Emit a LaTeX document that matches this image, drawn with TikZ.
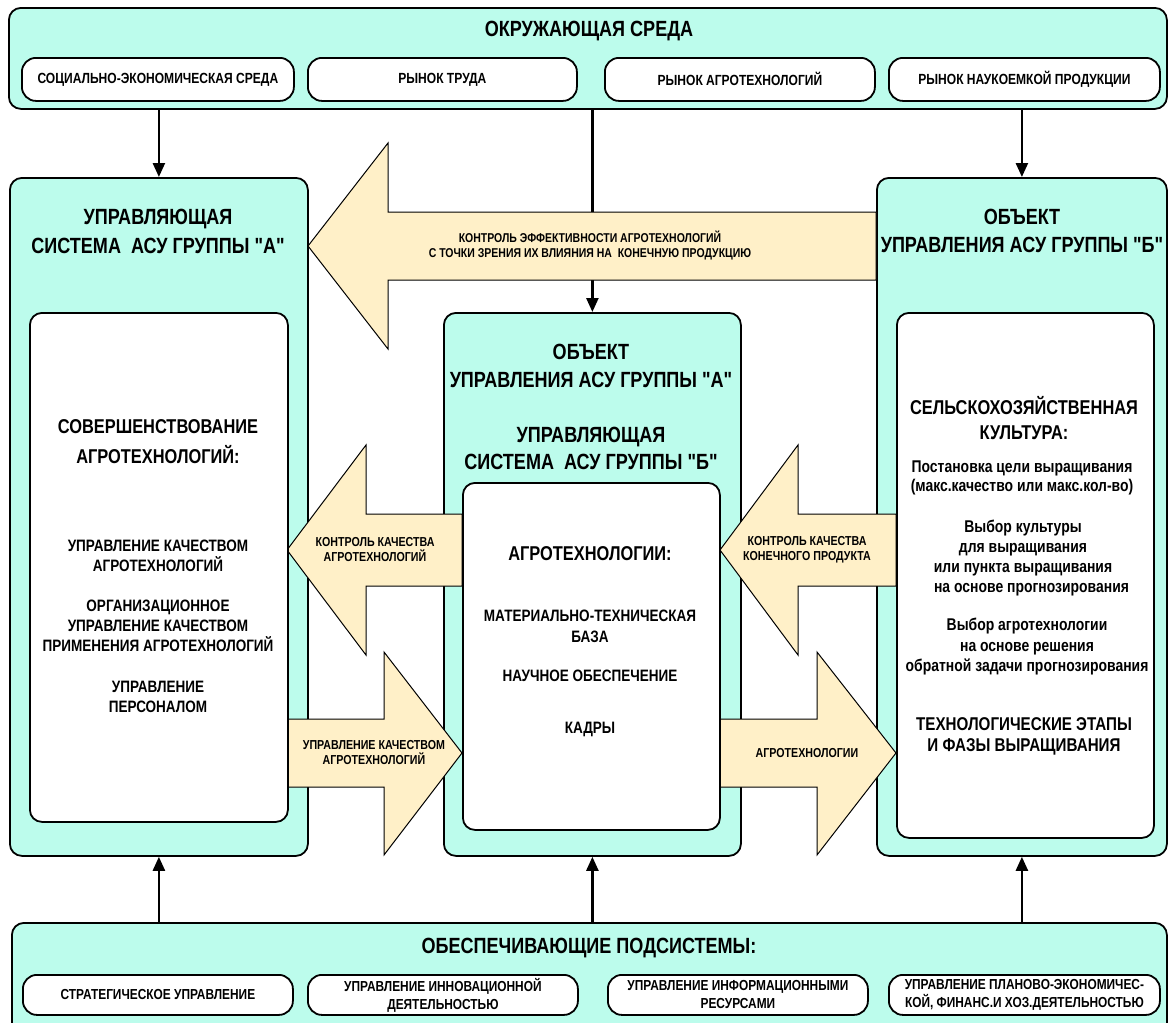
\documentclass[tikz,border=0pt]{standalone}
\usepackage{fontspec}
\setmainfont{Liberation Sans}[FakeStretch=0.82, Ligatures=TeXOff]
\usetikzlibrary{
  arrows.meta,
  positioning,  % relative placement
  calc,         % calculations $...$
}
\definecolor{panelfill}{RGB}{188,252,236}
\definecolor{arrowfill}{RGB}{255,240,200}
\newcommand{\fs}[2]{\fontsize{#1}{#2}\selectfont\bfseries}
\newcommand{\qt}{\symbol{34}}
\tikzset{
  x=1pt, y=-1pt,
  >={Triangle[length=14pt,width=12pt]},
  my panel/.style={
    draw,
    line width=1.8pt,
    fill=panelfill,
    rounded corners=12pt,
    anchor=north west,
    inner sep=0pt
  },
  my box/.style={
    draw,
    line width=1.8pt,
    fill=white,
    rounded corners=12pt,
    anchor=north west,
    inner sep=0pt
  },
  my pill/.style={
    my box,
    rounded corners=14pt
  },
  block arrow/.style={
    draw,
    line width=1pt,
    fill=arrowfill,
    line join=miter
  },
  conn/.style={
    ->,
    line width=2.4pt
  },
  big title/.style={font=\fs{22}{29}, align=center, inner sep=0pt},
  box title/.style={font=\fs{20}{30}, align=center, inner sep=0pt},
  mid text/.style={font=\fs{16.5}{20}, align=center, inner sep=0pt},
  box text/.style={font=\fs{14.7}{18}, align=center, inner sep=0pt},
  arrow text/.style={font=\fs{13}{15}, align=center, inner sep=0pt}
}

\begin{document}
\begin{tikzpicture}
\useasboundingbox (0,0) rectangle (1168,1023);

% panels
\node[my panel, minimum width=1158pt, minimum height=101pt] (env) at (8,7) {};
\node[my panel, minimum width=1155pt, minimum height=115pt] (supp) at (11,922) {};
\node[my panel, minimum width=298pt, minimum height=678pt] (lpanel) at (9,177) {};
\node[my panel, minimum width=297pt, minimum height=543pt] (cpanel) at (443,312) {};
\node[my panel, minimum width=290pt, minimum height=678pt] (rpanel) at (876,177) {};

% environment
\node[my pill, minimum width=272pt, minimum height=43pt] (env1) at (21,57) {};
\node[my pill, minimum width=269pt, minimum height=43pt] (env2) at (307,57) {};
\node[my pill, minimum width=270pt, minimum height=43pt] (env3) at (604,57) {};
\node[my pill, minimum width=271pt, minimum height=43pt] (env4) at (888,57) {};

% supporting subsystems
\node[my pill, minimum width=270pt, minimum height=40pt] (supp1) at (22,974) {};
\node[my pill, minimum width=270pt, minimum height=40pt] (supp2) at (307,974) {};
\node[my pill, minimum width=260pt, minimum height=40pt] (supp3) at (607,974) {};
\node[my pill, minimum width=271pt, minimum height=40pt] (supp4) at (888,974) {};

% connectors
\draw[conn] (lpanel.north |- env.south) -- (lpanel.north);
\draw[conn] (rpanel.north |- env.south) -- (rpanel.north);
\draw[conn] (cpanel.north |- env.south) -- (cpanel.north);
\draw[conn] (lpanel.south |- supp.north) -- (lpanel.south);
\draw[conn] (cpanel.south |- supp.north) -- (cpanel.south);
\draw[conn] (rpanel.south |- supp.north) -- (rpanel.south);

% block arrows
\draw[block arrow] (308,246) -- (388,143) -- (388,212) -- (876,212) -- (876,280)
  -- (388,280) -- (388,349) -- cycle;
\draw[block arrow] (287,550) -- (366,445) -- (366,514) -- (462,514) -- (462,586)
  -- (366,586) -- (366,655) -- cycle;
\draw[block arrow] (462,753) -- (384,652) -- (384,719) -- (287,719) -- (287,787)
  -- (384,787) -- (384,855) -- cycle;
\draw[block arrow] (720,550) -- (798,445) -- (798,514) -- (896,514) -- (896,586)
  -- (798,586) -- (798,655) -- cycle;
\draw[block arrow] (896,753) -- (817,652) -- (817,719) -- (720,719) -- (720,787)
  -- (817,787) -- (817,855) -- cycle;

% inner boxes
\node[my box, minimum width=258pt, minimum height=509pt] (lwhite) at (29,312) {};
\node[my box, minimum width=257pt, minimum height=347pt] (cwhite) at (462,482) {};
\node[my box, minimum width=257pt, minimum height=525pt] (rwhite) at (896,312) {};

% texts
\node[big title] (envt) at (589,31) {ОКРУЖАЮЩАЯ СРЕДА};
\node[box text] at (env1) {СОЦИАЛЬНО-ЭКОНОМИЧЕСКАЯ СРЕДА};
\node[box text] at (env2) {РЫНОК ТРУДА};
\node[box text] at (env3) {РЫНОК АГРОТЕХНОЛОГИЙ};
\node[box text] at (env4) {РЫНОК НАУКОЕМКОЙ ПРОДУКЦИИ};

\node[big title] (lt) at (158,231) {УПРАВЛЯЮЩАЯ\\СИСТЕМА~~АСУ ГРУППЫ \qt А\qt};
\node[box title] (l1) at (158,442) {СОВЕРШЕНСТВОВАНИЕ\\АГРОТЕХНОЛОГИЙ:};
\node[mid text] (l2) at (158,556) {УПРАВЛЕНИЕ КАЧЕСТВОМ\\АГРОТЕХНОЛОГИЙ};
\node[mid text] (l3) at (158,626) {ОРГАНИЗАЦИОННОЕ\\УПРАВЛЕНИЕ КАЧЕСТВОМ\\ПРИМЕНЕНИЯ АГРОТЕХНОЛОГИЙ};
\node[mid text] (l4) at (158,697) {УПРАВЛЕНИЕ\\ПЕРСОНАЛОМ};

\node[big title, font=\fs{22}{28}] (ct1) at (591,366) {ОБЪЕКТ\\УПРАВЛЕНИЯ АСУ ГРУППЫ \qt А\qt};
\node[big title, font=\fs{22}{27}] (ct2) at (591,448) {УПРАВЛЯЮЩАЯ\\СИСТЕМА~~АСУ ГРУППЫ \qt Б\qt};
\node[box title] (c1) at (590,554) {АГРОТЕХНОЛОГИИ:};
\node[mid text, font=\fs{16.5}{21}] (c2) at (590,626) {МАТЕРИАЛЬНО-ТЕХНИЧЕСКАЯ\\БАЗА};
\node[mid text] (c3) at (590,676) {НАУЧНОЕ ОБЕСПЕЧЕНИЕ};
\node[mid text] (c4) at (590,729) {КАДРЫ};

\node[big title, font=\fs{22}{28}] (rt) at (1022,231) {ОБЪЕКТ\\УПРАВЛЕНИЯ АСУ ГРУППЫ \qt Б\qt};
\node[box title, font=\fs{20}{25}] (r1) at (1024,418) {СЕЛЬСКОХОЗЯЙСТВЕННАЯ\\КУЛЬТУРА:};
\node[mid text, font=\fs{17}{19}] (r2) at (1022,478) {Постановка цели выращивания\\(макс.качество или макс.кол-во)};
\node[mid text, font=\fs{17}{20}] (r3) at (1023,558) {Выбор культуры\\для выращивания\\или пункта выращивания\\\hspace*{1em}на основе прогнозирования};
\node[mid text, font=\fs{17}{20.5}] (r4) at (1027,647) {Выбор агротехнологии\\на основе решения\\обратной задачи прогнозирования};
\node[box title, font=\fs{18.5}{21}] (r5) at (1024,736) {ТЕХНОЛОГИЧЕСКИЕ ЭТАПЫ\\И ФАЗЫ ВЫРАЩИВАНИЯ};

\node[arrow text, font=\fs{12.8}{15}] (a1) at (590,245) {КОНТРОЛЬ ЭФФЕКТИВНОСТИ АГРОТЕХНОЛОГИЙ\\С ТОЧКИ ЗРЕНИЯ ИХ ВЛИЯНИЯ НА~~КОНЕЧНУЮ ПРОДУКЦИЮ};
\node[arrow text] (a2) at (375,550) {КОНТРОЛЬ КАЧЕСТВА\\АГРОТЕХНОЛОГИЙ};
\node[arrow text] (a3) at (374,753) {УПРАВЛЕНИЕ КАЧЕСТВОМ\\АГРОТЕХНОЛОГИЙ};
\node[arrow text] (a4) at (807,550) {КОНТРОЛЬ КАЧЕСТВА\\КОНЕЧНОГО ПРОДУКТА};
\node[arrow text] (a5) at (807,753) {АГРОТЕХНОЛОГИИ};

\node[big title] (st) at (589,948) {ОБЕСПЕЧИВАЮЩИЕ ПОДСИСТЕМЫ:};
\node[box text, font=\fs{14.5}{18}] at (supp1) {СТРАТЕГИЧЕСКОЕ УПРАВЛЕНИЕ};
\node[box text, font=\fs{14.5}{18}] at (supp2) {УПРАВЛЕНИЕ ИННОВАЦИОННОЙ\\ДЕЯТЕЛЬНОСТЬЮ};
\node[box text, font=\fs{14.5}{18}] at (supp3) {УПРАВЛЕНИЕ ИНФОРМАЦИОННЫМИ\\РЕСУРСАМИ};
\node[box text, font=\fs{14.5}{18}] at (supp4) {УПРАВЛЕНИЕ ПЛАНОВО-ЭКОНОМИЧЕС-\\КОЙ, ФИНАНС.И ХОЗ.ДЕЯТЕЛЬНОСТЬЮ};
\end{tikzpicture}
\end{document}
